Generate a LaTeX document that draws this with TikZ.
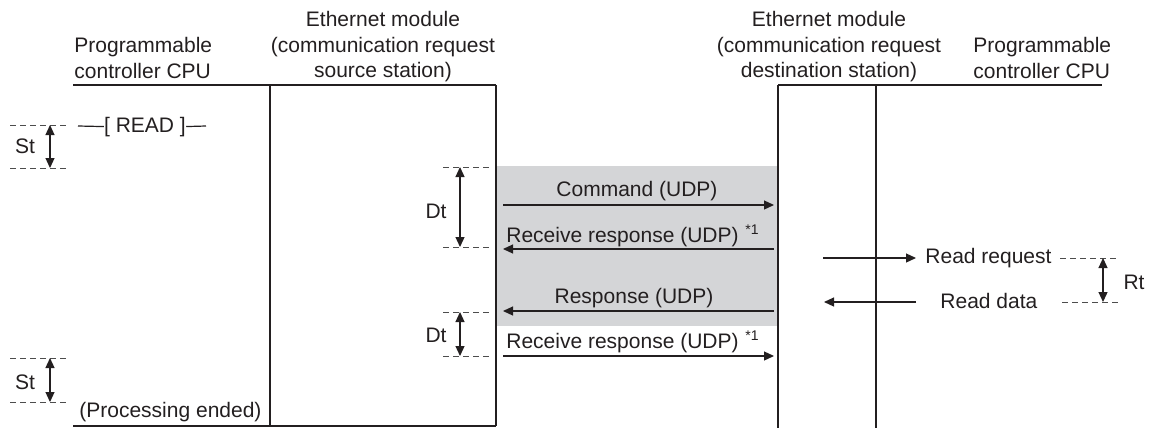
\documentclass[tikz,border=0pt]{standalone}
\usepackage{fontspec}
\setmainfont{Liberation Sans}
\usetikzlibrary{arrows.meta,positioning}
\definecolor{seqInk}{HTML}{231F20}
\definecolor{seqShade}{HTML}{D4D5D7}
\definecolor{seqGuide}{HTML}{4D4D4D}
\tikzset{
  lane/.style={line width=1pt, draw=seqInk},
  msg/.style={-{Triangle[length=5pt, width=4.5pt]}, line width=0.6pt, draw=seqInk},
  span/.style={{Triangle[length=5pt, width=4.5pt]}-{Triangle[length=5pt, width=4.5pt]}, line width=0.6pt, draw=seqInk},
  guide/.style={dash pattern=on 3pt off 2pt, line width=0.45pt, draw=seqGuide},
  hdr/.style={font=\fontsize{10.5}{12.75}\selectfont, text=seqInk, inner sep=0pt},
  lbl/.style={font=\fontsize{10.5}{12.75}\selectfont, text=seqInk, inner sep=0pt},
  sup/.style={font=\fontsize{7}{8}\selectfont, text=seqInk, inner sep=0pt}
}
\begin{document}
\begin{tikzpicture}[x=0.5pt, y=-0.5pt]
  \useasboundingbox (0,0) rectangle (1154,428);
  % shaded exchange
  \fill[seqShade] (497,166) rectangle (777,326);

  % headers
  \node[hdr, align=left, anchor=north west] (cpuA) at (74,37) {Programmable\\controller CPU};
  \node[hdr, align=center, anchor=north] (src) at (383,11) {Ethernet module\\(communication request\\source station)};
  \node[hdr, align=center, anchor=north] (dst) at (829,11) {Ethernet module\\(communication request\\destination station)};
  \node[hdr, align=left, anchor=north west] (cpuB) at (973,37) {Programmable\\controller CPU};

  % lanes
  \coordinate (cpuAT) at (73,85);
  \coordinate (cpuAB) at (73,426);
  \coordinate (srcLT) at (270,85);
  \coordinate (srcLB) at (270,426);
  \coordinate (srcRT) at (496,85);
  \coordinate (srcRB) at (496,426);
  \coordinate (dstLT) at (778,85);
  \coordinate (dstLB) at (778,428);
  \coordinate (dstRT) at (876,85);
  \coordinate (dstRB) at (876,428);
  \coordinate (cpuBT) at (1102,85);
  \draw[lane] (cpuAT) -- (srcRT);
  \draw[lane] (cpuAB) -- (srcRB);
  \draw[lane] (srcLT) -- (srcLB);
  \draw[lane] (srcRT) -- (srcRB);
  \draw[lane] (dstLT) -- (cpuBT);
  \draw[lane] (dstLT) -- (dstLB);
  \draw[lane] (dstRT) -- (dstRB);

  % READ instruction
  \node[lbl, anchor=base] (read) at (145,132) {[ READ ]};
  \coordinate (readL) at (78,126);
  \coordinate (readR) at (206,126);
  \draw[line width=0.6pt, seqInk] (readL) -- (read.west);
  \draw[line width=0.6pt, seqInk] (read.east) -- (readR);

  % scan times
  \coordinate (st1a) at (10,125);  \coordinate (st1b) at (68,125);
  \coordinate (st1c) at (10,168);  \coordinate (st1d) at (68,168);
  \draw[guide] (st1a) -- (st1b);
  \draw[guide] (st1c) -- (st1d);
  \coordinate (st1t) at (50,125);  \coordinate (st1u) at (50,168);
  \draw[span] (st1t) -- (st1u);
  \node[lbl] (st1) at (25,146) {St};

  \coordinate (st2a) at (10,358);  \coordinate (st2b) at (68,358);
  \coordinate (st2c) at (10,402);  \coordinate (st2d) at (68,402);
  \draw[guide] (st2a) -- (st2b);
  \draw[guide] (st2c) -- (st2d);
  \coordinate (st2t) at (50,358);  \coordinate (st2u) at (50,402);
  \draw[span] (st2t) -- (st2u);
  \node[lbl] (st2) at (25,382) {St};
  \node[lbl, anchor=base west] (done) at (79,417) {(Processing ended)};

  % module times
  \coordinate (dt1a) at (443,167);  \coordinate (dt1b) at (492,167);
  \coordinate (dt1c) at (443,247);  \coordinate (dt1d) at (492,247);
  \draw[guide] (dt1a) -- (dt1b);
  \draw[guide] (dt1c) -- (dt1d);
  \coordinate (dt1t) at (460,167);  \coordinate (dt1u) at (460,247);
  \draw[span] (dt1t) -- (dt1u);
  \node[lbl] (dt1) at (436,211) {Dt};

  \coordinate (dt2a) at (443,312);  \coordinate (dt2b) at (492,312);
  \coordinate (dt2c) at (443,356);  \coordinate (dt2d) at (492,356);
  \draw[guide] (dt2a) -- (dt2b);
  \draw[guide] (dt2c) -- (dt2d);
  \coordinate (dt2t) at (460,312);  \coordinate (dt2u) at (460,356);
  \draw[span] (dt2t) -- (dt2u);
  \node[lbl] (dt2) at (436,335) {Dt};

  % messages between modules
  \coordinate (cmdA) at (503,205);  \coordinate (cmdB) at (774,205);
  \draw[msg] (cmdA) -- (cmdB);
  \node[lbl, anchor=base] (cmd) at (637,196) {Command (UDP)};

  \coordinate (rr1A) at (774,249);  \coordinate (rr1B) at (503,249);
  \draw[msg] (rr1A) -- (rr1B);
  \node[lbl, anchor=base west] (rr1) at (506,242) {Receive response (UDP)};
  \node[sup, anchor=base west] (rr1n) at (745,234) {*1};

  \coordinate (rspA) at (774,311);  \coordinate (rspB) at (503,311);
  \draw[msg] (rspA) -- (rspB);
  \node[lbl, anchor=base] (rsp) at (634,303) {Response (UDP)};

  \coordinate (rr2A) at (503,356);  \coordinate (rr2B) at (774,356);
  \draw[msg] (rr2A) -- (rr2B);
  \node[lbl, anchor=base west] (rr2) at (506,348) {Receive response (UDP)};
  \node[sup, anchor=base west] (rr2n) at (745,340) {*1};

  % destination side
  \coordinate (rqA) at (823,258);  \coordinate (rqB) at (916,258);
  \draw[msg] (rqA) -- (rqB);
  \node[lbl, anchor=base west] (rq) at (925,263) {Read request};

  \coordinate (rdA) at (916,302);  \coordinate (rdB) at (824,302);
  \draw[msg] (rdA) -- (rdB);
  \node[lbl, anchor=base west] (rd) at (940,308) {Read data};

  \coordinate (rt1a) at (1060,258);  \coordinate (rt1b) at (1118,258);
  \coordinate (rt1c) at (1062,302);  \coordinate (rt1d) at (1120,302);
  \draw[guide] (rt1a) -- (rt1b);
  \draw[guide] (rt1c) -- (rt1d);
  \coordinate (rt1t) at (1103,258);  \coordinate (rt1u) at (1103,302);
  \draw[span] (rt1t) -- (rt1u);
  \node[lbl] (rt) at (1134,282) {Rt};
\end{tikzpicture}
\end{document}
